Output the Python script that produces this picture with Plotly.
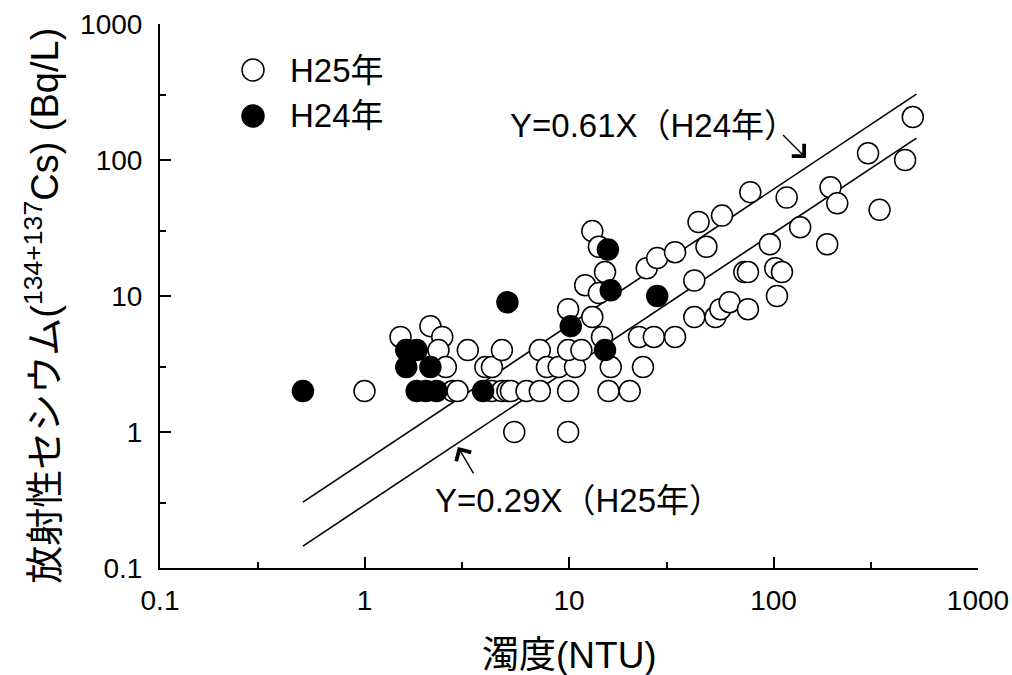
import plotly.graph_objects as go

# H25 (open circles)
h25_x = [1, 1.5, 2.1, 2.4, 2.3, 2.5, 2.7, 2.85, 3.2, 3.9, 4.2, 4.2, 4.7, 5.0, 5.2,
         4.7, 6.2, 7.2, 7.2, 7.8, 8.9, 10.7, 9.9, 9.9, 11.5, 5.4, 9.9, 9.9,
         13, 14.5, 22, 26, 33, 12, 14, 15, 13, 14, 16, 23, 15.6, 19.8,
         24, 27, 33, 41, 41, 43, 47, 52, 55, 56, 61,
         72, 75, 75, 77, 96, 102, 104, 110, 116, 135,
         183, 190, 205, 290, 330, 440, 480]
h25_y = [2, 5, 6, 5, 4, 3, 2, 2, 4, 3, 3, 2, 2, 2, 2,
         4, 2, 2, 4, 3, 3, 3, 2, 4, 4, 1, 1, 8,
         7, 5, 5, 5, 5, 12, 10.5, 15, 30, 23, 3, 3, 2, 2,
         16, 19, 21, 13, 7, 35, 23, 7, 8, 39, 9,
         15, 15, 8, 58, 24, 16, 10, 15, 53, 32,
         24, 63, 48, 112, 43, 100, 207]

# H24 (filled circles)
h24_x = [0.5, 1.6, 1.8, 1.6, 2.1, 1.8, 2.0, 2.25, 3.8, 5.0, 10.2, 15, 15.5, 16, 27]
h24_y = [2, 4, 4, 3, 3, 2, 2, 2, 2, 9, 6, 4, 22, 11, 10]

# regression lines
line_x = [0.5, 500]
slope_h24 = 0.61
slope_h25 = 0.29

x_ticks = [0.1, 1, 10, 100, 1000]
x_ticktext = ["0.1", "1", "10", "100", "1000"]
y_ticks = [0.1, 1, 10, 100, 1000]
y_ticktext = ["0.1", "1", "10", "100", "1000"]
minor_ticks = [0.3, 3, 30, 300]

series_names = ["H25年", "H24年"]

LAT = "Liberation Sans, Arial, Noto Sans CJK JP"

fig = go.Figure()
fig.add_trace(go.Scatter(x=line_x, y=[slope_h24 * v for v in line_x], mode="lines",
                         line=dict(color="black", width=1.6), showlegend=False))
fig.add_trace(go.Scatter(x=line_x, y=[slope_h25 * v for v in line_x], mode="lines",
                         line=dict(color="black", width=1.6), showlegend=False))
fig.add_trace(go.Scatter(x=h25_x, y=h25_y, mode="markers", name=series_names[0],
                         showlegend=False,
                         marker=dict(size=21, color="white", symbol="circle",
                                     line=dict(color="black", width=1.5))))
fig.add_trace(go.Scatter(x=h24_x, y=h24_y, mode="markers", name=series_names[1],
                         showlegend=False,
                         marker=dict(size=21, color="black", symbol="circle",
                                     line=dict(color="black", width=1.5))))

axis_common = dict(
    type="log", range=[-1, 3], showgrid=False, zeroline=False, automargin=False,
    showline=True, linecolor="black", linewidth=2,
    ticks="inside", ticklen=11, tickwidth=2, tickcolor="black",
    tickfont=dict(family=LAT, size=28, color="black"),
    minor=dict(tickvals=minor_ticks, ticks="inside", ticklen=6, tickwidth=2, tickcolor="black"),
)
fig.update_xaxes(**axis_common, tickvals=x_ticks, ticktext=x_ticktext, ticklabelstandoff=6)
fig.update_yaxes(**axis_common, tickvals=y_ticks, ticktext=y_ticktext, ticklabelstandoff=10)

# legend drawn as symbols + labels (sized like the reference)
legend_y = [0.9154, 0.8309]
legend_fill = ["white", "black"]
shapes = []
annotations = []
for name, ly, fillc in zip(series_names, legend_y, legend_fill):
    shapes.append(dict(type="circle", xref="paper", yref="paper",
                       xsizemode="pixel", ysizemode="pixel",
                       xanchor=0.1137, yanchor=ly, x0=-11, x1=11, y0=-11, y1=11,
                       fillcolor=fillc, line=dict(color="black", width=1.5)))
    annotations.append(dict(text=name, xref="paper", yref="paper", x=0.1565, y=ly,
                            xanchor="left", yanchor="middle", showarrow=False,
                            font=dict(family=LAT, size=33, color="black")))

annotations += [
    dict(text="Y=0.61X（H24年）", xref="paper", yref="paper", x=0.603, y=0.814,
         xanchor="center", yanchor="middle",
         showarrow=False, font=dict(family=LAT, size=33, color="black")),
    dict(text="Y=0.29X（H25年）", xref="paper", yref="paper", x=0.512, y=0.125,
         xanchor="center", yanchor="middle",
         showarrow=False, font=dict(family=LAT, size=33, color="black")),
    dict(text=" ", x=2.159, y=2.015, xref="x", yref="y",
         showarrow=True, ax=-25, ay=-25, arrowhead=4, arrowsize=2.4,
         arrowwidth=1.4, arrowcolor="black", standoff=0,
         font=dict(size=2)),
    dict(text=" ", x=0.457, y=-0.11, xref="x", yref="y",
         showarrow=True, ax=17, ay=29, arrowhead=4, arrowsize=2.4,
         arrowwidth=1.4, arrowcolor="black", standoff=0,
         font=dict(size=2)),
    dict(text="濁度(NTU)", xref="paper", yref="paper", x=0.5, y=-0.16,
         xanchor="center", yanchor="middle",
         showarrow=False, font=dict(family=LAT, size=37, color="black")),
    dict(text="放射性セシウム(<sup>134+137</sup>Cs) (Bq/L)", xref="paper", yref="paper",
         x=-0.1443, y=0.482, xanchor="center", yanchor="middle", textangle=-90,
         showarrow=False, font=dict(family=LAT, size=38, color="black")),
]

fig.update_layout(
    width=1012, height=675,
    margin=dict(l=160, r=34, t=24, b=107),
    plot_bgcolor="white", paper_bgcolor="white",
    font=dict(family=LAT, color="black"),
    showlegend=False,
    shapes=shapes,
    annotations=annotations,
)

fig.write_html("out.html")
